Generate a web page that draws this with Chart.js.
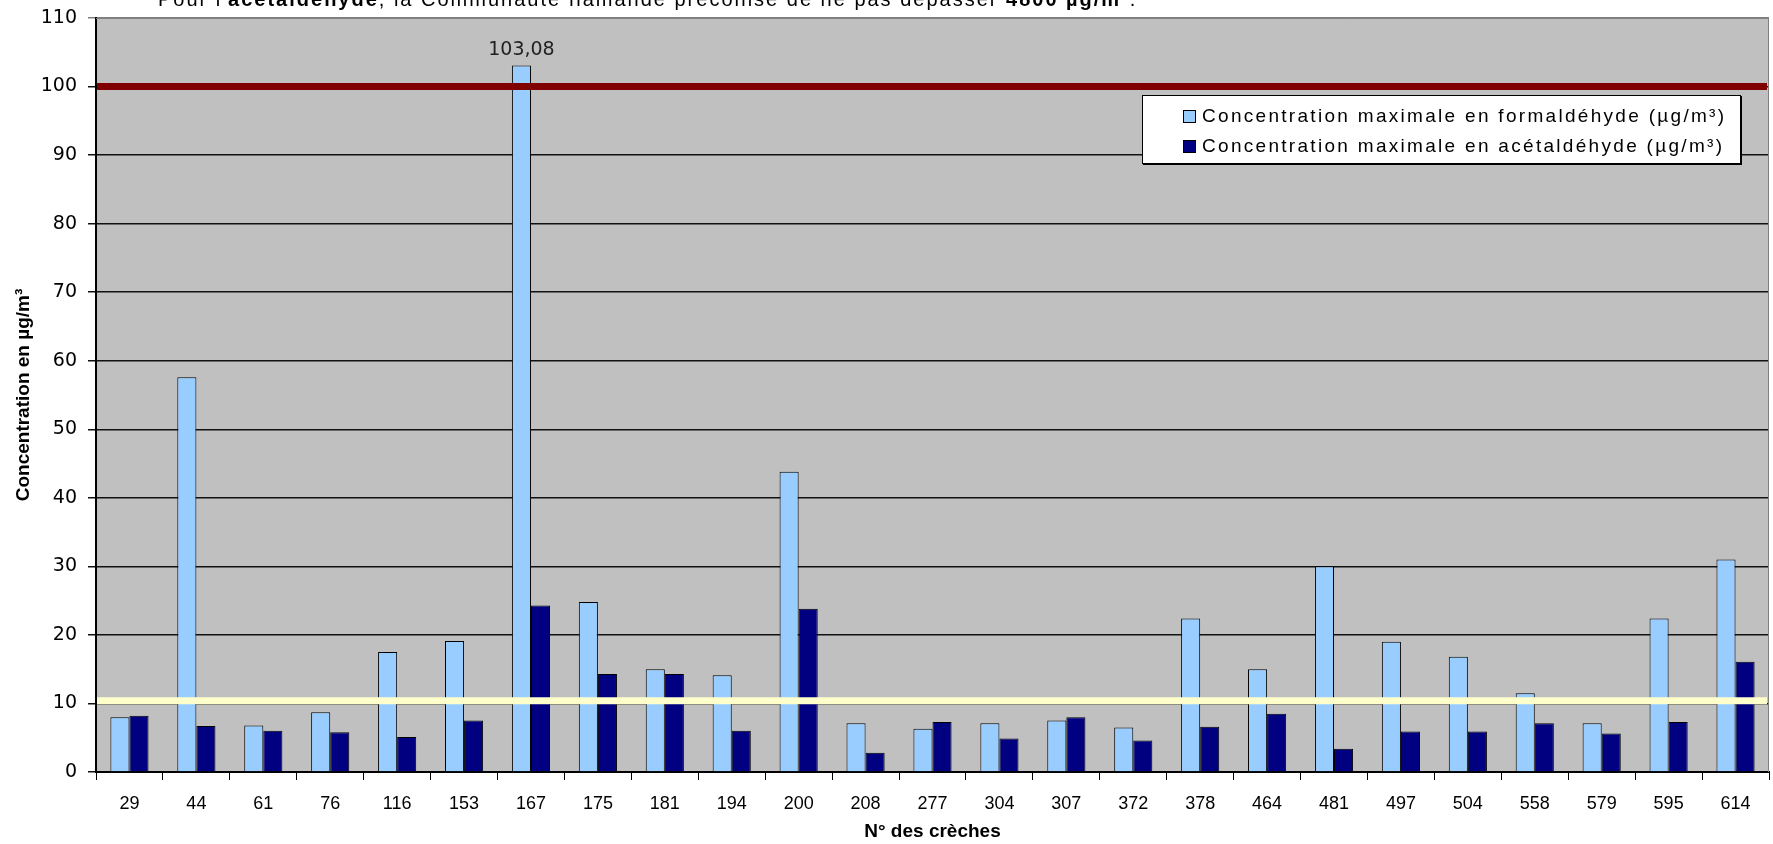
<!DOCTYPE html>
<html>
<head>
<meta charset="utf-8">
<script src="https://cdn.jsdelivr.net/npm/chart.js@4.4.0/dist/chart.umd.min.js"></script>
<style>
  html, body { margin: 0; padding: 0; background: #fff; }
  #wrap { position: relative; width: 1773px; height: 844px; overflow: hidden; }
  #note {
    position: absolute; left: 158px; top: -11px;
    font: 20px Arial, "Liberation Sans", sans-serif; line-height: 20px;
    letter-spacing: 2px; white-space: nowrap; color: #000;
  }
  #legend {
    position: absolute; left: 1142px; top: 95px; width: 597px; height: 67px;
    background: #fff; border: 1px solid #000; box-shadow: 1px 1px 0 #000;
    font: 19px Arial, "Liberation Sans", sans-serif; letter-spacing: 2.3px; color: #000;
  }
  #legend .row { position: absolute; left: 40px; display: flex; align-items: center; height: 24px; white-space: nowrap; }
  #legend .box { width: 11px; height: 11px; border: 1px solid #000; margin-right: 6px; }
</style>
</head>
<body>
<div id="wrap">
  <canvas id="chart" width="1773" height="844"></canvas>
  <div id="note">Pour l'<b>acétaldéhyde</b>, la Communauté flamande préconise de ne pas dépasser <b>4800 µg/m³</b>.</div>
  <div id="legend"></div>
</div>
<script>
// N° des crèches
const creches = ['29', '44', '61', '76', '116', '153', '167', '175', '181', '194', '200', '208', '277',
                 '304', '307', '372', '378', '464', '481', '497', '504', '558', '579', '595', '614'];

// concentrations maximales (µg/m³)
const formaldehyde = [8.0, 57.6, 6.8, 8.7, 17.5, 19.1, 103.08, 24.8, 15.0, 14.1, 43.8, 7.1, 6.3,
                      7.1, 7.5, 6.5, 22.4, 15.0, 30.0, 19.0, 16.8, 11.5, 7.1, 22.4, 31.0];
const acetaldehyde = [8.2, 6.7, 6.0, 5.8, 5.1, 7.5, 24.3, 14.3, 14.3, 6.0, 23.8, 2.8, 7.3,
                      4.9, 8.0, 4.6, 6.6, 8.5, 3.4, 5.9, 5.9, 7.1, 5.6, 7.3, 16.1];

const seriesLabels = ['Concentration maximale en formaldéhyde (µg/m³)',
                      'Concentration maximale en acétaldéhyde (µg/m³)'];
const seriesColors = ['#99CCFF', '#000080'];

// valeurs guides
const redLimit = 100;
const yellowLimit = 10.4;

const yMin = 0, yMax = 110, yStep = 10;

Chart.defaults.font.family = 'Arial, "Liberation Sans", sans-serif';
Chart.defaults.color = '#000';

const plotBackground = {
    id: 'plotBackground',
    beforeDraw(chart) {
        const { ctx, chartArea: a } = chart;
        ctx.save();
        ctx.fillStyle = '#C0C0C0';
        ctx.fillRect(a.left, a.top, a.right - a.left, a.bottom - a.top);
        ctx.restore();
    },
    afterDraw(chart) {
        const { ctx, chartArea: a } = chart;
        ctx.save();
        ctx.strokeStyle = '#808080';
        ctx.lineWidth = 1;
        ctx.beginPath();
        ctx.moveTo(a.left, a.top + 0.5);
        ctx.lineTo(a.right - 0.5, a.top + 0.5);
        ctx.lineTo(a.right - 0.5, a.bottom);
        ctx.stroke();
        ctx.restore();
    }
};

const limitLines = {
    id: 'limitLines',
    afterDatasetsDraw(chart) {
        const { ctx, chartArea: a, scales: { y } } = chart;
        const draw = (value, color) => {
            const py = y.getPixelForValue(value);
            ctx.save();
            ctx.strokeStyle = color;
            ctx.lineWidth = 7;
            ctx.beginPath();
            ctx.moveTo(a.left + 1, py);
            ctx.lineTo(a.right - 2, py);
            ctx.stroke();
            ctx.restore();
        };
        draw(yellowLimit, '#FFFFCC');
        draw(redLimit, '#800000');

        // étiquette des valeurs au-dessus de la limite
        const meta = chart.getDatasetMeta(0);
        ctx.save();
        ctx.font = '19px "DejaVu Sans", Verdana, sans-serif';
        ctx.fillStyle = '#222';
        ctx.textAlign = 'center';
        ctx.textBaseline = 'middle';
        formaldehyde.forEach((v, i) => {
            if (v <= redLimit) return;
            const bar = meta.data[i];
            ctx.fillText(v.toFixed(2).replace('.', ','), bar.x, bar.y - 15);
        });
        ctx.restore();
    }
};

const chart = new Chart(document.getElementById('chart'), {
    type: 'bar',
    data: {
        labels: creches,
        datasets: [
            {
                label: seriesLabels[0],
                data: formaldehyde,
                backgroundColor: seriesColors[0],
                borderColor: '#000',
                borderWidth: 1,
            },
            {
                label: seriesLabels[1],
                data: acetaldehyde,
                backgroundColor: seriesColors[1],
                borderColor: '#000',
                borderWidth: 1,
            },
        ],
    },
    options: {
        responsive: false,
        animation: false,
        datasets: { bar: { categoryPercentage: 0.57, barPercentage: 1 } },
        layout: { padding: { top: 18, right: 4, left: 0, bottom: 0 } },
        plugins: { legend: { display: false }, tooltip: { enabled: false } },
        scales: {
            x: {
                afterFit: (scale) => { scale.height = 72; },
                offset: true,
                grid: { display: true, drawOnChartArea: false, drawTicks: true, tickLength: 8, offset: true, color: '#000' },
                border: { color: '#000', width: 2 },
                ticks: { font: { size: 18 }, padding: 13, maxRotation: 0, autoSkip: false },
                title: { display: true, text: 'N° des crèches', font: { size: 19, weight: 'bold' }, padding: { top: 0, bottom: 1 } },
            },
            y: {
                min: yMin,
                max: yMax,
                afterFit: (scale) => {
                    scale.width = 96;
                    scale.paddingTop = 0;
                    scale.paddingBottom = 0;
                },
                grid: {
                    color: (c) => (c.tick && c.tick.value === yMax ? '#808080' : '#111'),
                    lineWidth: 1.5,
                    tickLength: 8,
                },
                border: { color: '#000', width: 2 },
                ticks: { stepSize: yStep, font: { size: 19, family: '"DejaVu Sans", Verdana, sans-serif' }, padding: 11 },
                title: { display: true, text: 'Concentration en µg/m³', font: { size: 19, weight: 'bold' }, padding: { top: 12, bottom: 0 } },
            },
        },
    },
    plugins: [plotBackground, limitLines],
});

// légende
const legend = document.getElementById('legend');
seriesLabels.forEach((label, i) => {
    const row = document.createElement('div');
    row.className = 'row';
    row.style.top = (i === 0 ? 8 : 38) + 'px';
    row.innerHTML = '<span class="box" style="background:' + seriesColors[i] + '"></span><span>' + label + '</span>';
    legend.appendChild(row);
});
</script>
</body>
</html>
